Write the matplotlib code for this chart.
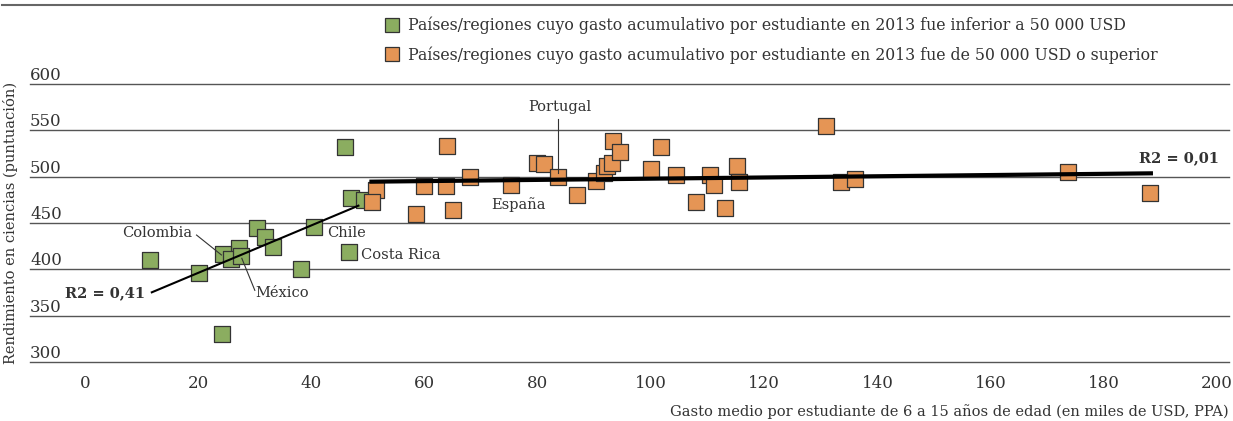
import matplotlib.pyplot as plt
from matplotlib.lines import Line2D

plt.rcParams['font.family'] = ['DejaVu Serif']

# Gasto (miles USD, PPA) y rendimiento en ciencias
green_x = [11.5, 45.9, 47.0, 49.3, 40.5, 30.4, 31.8, 33.2, 27.2, 24.4, 25.8, 27.5, 20.1, 38.2, 46.6, 24.2]
green_y = [410, 532, 477, 475, 446, 445, 435, 424, 423, 417, 411, 414, 396, 400, 419, 330]

orange_x = [51.4, 50.7, 58.4, 64.0, 59.8, 63.7, 65.0, 68.0, 75.2, 79.8, 81.1, 83.6, 86.9,
            90.2, 91.6, 92.3, 93.1, 93.2, 94.6, 101.7, 99.9, 104.4, 108.0, 110.4, 111.1,
            113.1, 115.2, 115.5, 130.9, 133.6, 136.0, 173.7, 188.2]
orange_y = [486, 473, 460, 533, 490, 490, 464, 500, 491, 515, 514, 500, 480,
            495, 504, 511, 515, 538, 527, 532, 508, 502, 473, 502, 491,
            466, 511, 494, 555, 494, 498, 505, 482]

# Líneas de tendencia (extremos)
trend_green_x = [11.8, 48.3]
trend_green_y = [375.2, 468.7]
trend_orange_x = [50.6, 188.3]
trend_orange_y = [494.6, 503.6]

x_ticks = [0, 20, 40, 60, 80, 100, 120, 140, 160, 180, 200]
y_ticks = [300, 350, 400, 450, 500, 550, 600]

legend_labels = [
    'Países/regiones cuyo gasto acumulativo por estudiante en 2013 fue inferior a 50 000 USD',
    'Países/regiones cuyo gasto acumulativo por estudiante en 2013 fue de 50 000 USD o superior',
]

green = '#8BAD60'
orange = '#E59555'
edge = '#333333'
txt = '#333333'

fig = plt.figure(figsize=(12.33, 4.21), dpi=100)
ax = fig.add_axes([30 / 1233, 59 / 421, 1199 / 1233, 278 / 421])
ax.set_xlim(-9.72, 202.1)
ax.set_ylim(300, 600)

for v in y_ticks:
    ax.axhline(v, color='#555555', lw=1.0, zorder=1, clip_on=False)
    ax.text(0, v, str(v), transform=ax.get_yaxis_transform(), ha='left', va='bottom',
            fontsize=12, color=txt)

ax.scatter(green_x, green_y, marker='s', s=118, color=green, edgecolor=edge, linewidth=0.9, zorder=3)
ax.scatter(orange_x, orange_y, marker='s', s=118, color=orange, edgecolor=edge, linewidth=0.9, zorder=4)

ax.plot(trend_green_x, trend_green_y, color='black', lw=1.5, zorder=5)
ax.plot(trend_orange_x, trend_orange_y, color='black', lw=3.0, zorder=5)

# Etiquetas de países
lab = dict(fontsize=10.5, color=txt, va='center', zorder=6)
ax.text(18.9, 439, 'Colombia', ha='right', **lab)
ax.plot([19.7, 24.1], [437, 415.5], color=txt, lw=0.8, zorder=6)
ax.text(30.0, 374.4, 'México', ha='left', **lab)
ax.plot([27.7, 30.0], [411.9, 377.3], color=txt, lw=0.8, zorder=6)
ax.text(42.8, 439.5, 'Chile', ha='left', **lab)
ax.text(48.8, 415.5, 'Costa Rica', ha='left', **lab)
ax.text(83.8, 575.5, 'Portugal', ha='center', **lab)
ax.plot([83.6, 83.6], [561.9, 503.6], color=txt, lw=0.8, zorder=6)
ax.text(76.5, 469.4, 'España', ha='center', **lab)
ax.text(10.6, 374.4, 'R2 = 0,41', ha='right', fontweight='bold', **lab)
ax.text(186.2, 519.8, 'R2 = 0,01', ha='left', fontweight='bold', **lab)

ax.set_xticks(x_ticks)
ax.set_xticklabels([str(v) for v in x_ticks], fontsize=12, color=txt)
ax.tick_params(axis='x', length=0, pad=9)
ax.set_yticks([])
for s in ax.spines.values():
    s.set_visible(False)

ax.set_ylabel('Rendimiento en ciencias (puntuación)', fontsize=10.5, color=txt, labelpad=4)
ax.yaxis.set_label_coords(-12 / 1199, 0.5)
fig.text(1229 / 1233, 1 - 412 / 421, 'Gasto medio por estudiante de 6 a 15 años de edad (en miles de USD, PPA)',
         ha='right', va='center', fontsize=10.5, color=txt)

# Línea superior
fig.add_artist(Line2D([2 / 1233, 1], [1 - 5 / 421, 1 - 5 / 421], color='#666666', lw=1.5,
                      transform=fig.transFigure))

handles = [
    Line2D([], [], marker='s', linestyle='none', markersize=10.5, markerfacecolor=green,
           markeredgecolor=edge, markeredgewidth=0.9),
    Line2D([], [], marker='s', linestyle='none', markersize=10.5, markerfacecolor=orange,
           markeredgecolor=edge, markeredgewidth=0.9),
]
fig.legend(handles, legend_labels, loc='upper left', bbox_to_anchor=(386 / 1233, 1 - 17 / 421),
           frameon=False, fontsize=11.3, handlelength=0.8, handletextpad=0.6, labelspacing=0.75,
           borderpad=0, borderaxespad=0, labelcolor=txt)

fig.savefig('out.png', dpi=100)
